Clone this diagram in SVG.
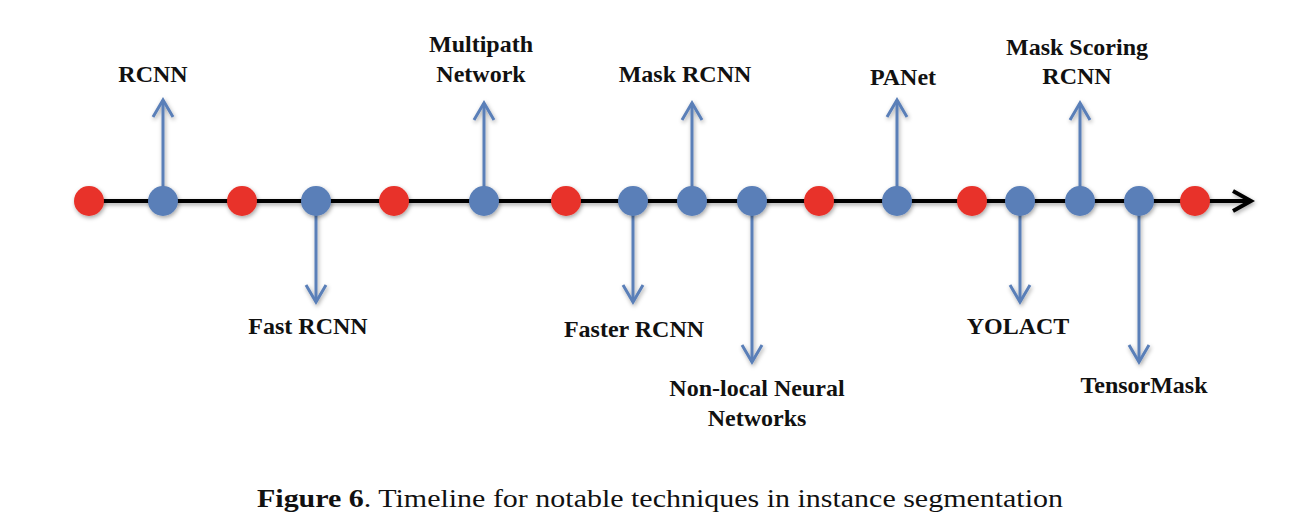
<svg xmlns="http://www.w3.org/2000/svg" width="1302" height="528" viewBox="0 0 1302 528">
<style>
.lbl{font-family:"Liberation Serif","Times New Roman",serif;font-weight:bold;font-size:24px;fill:#111;text-anchor:middle}
.cap{font-family:"Liberation Serif","Times New Roman",serif;font-size:25px;fill:#111}
.red{fill:#e8322a}
.blue{fill:#5a7fb8}
.conn{stroke:#5a7fb8;stroke-width:3;fill:none}
</style>
<defs>
<filter id="sh" x="-50%" y="-50%" width="200%" height="200%">
<feDropShadow dx="1" dy="2" stdDeviation="2" flood-color="#000" flood-opacity="0.35"/>
</filter>
<marker id="ah" markerUnits="userSpaceOnUse" viewBox="-20 -12 24 24" refX="0" refY="0" markerWidth="24" markerHeight="24" orient="auto">
<path d="M-17,-10 L0,0 L-17,10" fill="none" stroke="#5a7fb8" stroke-width="3"/>
</marker>
<marker id="axh" markerUnits="userSpaceOnUse" viewBox="-24 -14 28 28" refX="0" refY="0" markerWidth="28" markerHeight="28" orient="auto">
<path d="M-18,-10 L0,0 L-18,10" fill="none" stroke="#000" stroke-width="4"/>
</marker>
</defs>
<rect width="1302" height="528" fill="#fff"/>
<g id="connectors" filter="url(#sh)">
<line x1="89" y1="201" x2="1251" y2="201" stroke="#000" stroke-width="4" marker-end="url(#axh)"/>
<line class="conn" x1="163" y1="190" x2="163" y2="100" marker-end="url(#ah)"/>
<line class="conn" x1="316" y1="212" x2="316" y2="302" marker-end="url(#ah)"/>
<line class="conn" x1="484" y1="190" x2="484" y2="103" marker-end="url(#ah)"/>
<line class="conn" x1="633" y1="212" x2="633" y2="302" marker-end="url(#ah)"/>
<line class="conn" x1="692" y1="190" x2="692" y2="103" marker-end="url(#ah)"/>
<line class="conn" x1="752" y1="212" x2="752" y2="362" marker-end="url(#ah)"/>
<line class="conn" x1="897" y1="190" x2="897" y2="100" marker-end="url(#ah)"/>
<line class="conn" x1="1020" y1="212" x2="1020" y2="302" marker-end="url(#ah)"/>
<line class="conn" x1="1080" y1="190" x2="1080" y2="103" marker-end="url(#ah)"/>
<line class="conn" x1="1139" y1="212" x2="1139" y2="362" marker-end="url(#ah)"/>
</g>
<g filter="url(#sh)">
<g id="r1"><circle class="red" cx="89" cy="201" r="15"/></g>
<g id="rcnn"><circle class="blue" cx="163" cy="201" r="15"/></g>
<g id="r2"><circle class="red" cx="242" cy="201" r="15"/></g>
<g id="fast-rcnn"><circle class="blue" cx="316" cy="201" r="15"/></g>
<g id="r3"><circle class="red" cx="394" cy="201" r="15"/></g>
<g id="multipath"><circle class="blue" cx="484" cy="201" r="15"/></g>
<g id="r4"><circle class="red" cx="566" cy="201" r="15"/></g>
<g id="faster-rcnn"><circle class="blue" cx="633" cy="201" r="15"/></g>
<g id="mask-rcnn"><circle class="blue" cx="692" cy="201" r="15"/></g>
<g id="non-local"><circle class="blue" cx="752" cy="201" r="15"/></g>
<g id="r5"><circle class="red" cx="819" cy="201" r="15"/></g>
<g id="panet"><circle class="blue" cx="897" cy="201" r="15"/></g>
<g id="r6"><circle class="red" cx="972" cy="201" r="15"/></g>
<g id="yolact"><circle class="blue" cx="1020" cy="201" r="15"/></g>
<g id="ms-rcnn"><circle class="blue" cx="1080" cy="201" r="15"/></g>
<g id="tensormask"><circle class="blue" cx="1139" cy="201" r="15"/></g>
<g id="r7"><circle class="red" cx="1195" cy="201" r="15"/></g>
</g>
<g id="labels">
<text class="lbl" x="153" y="82">RCNN</text>
<text class="lbl" x="481" y="52">Multipath</text>
<text class="lbl" x="481" y="82">Network</text>
<text class="lbl" x="685" y="82">Mask RCNN</text>
<text class="lbl" x="903" y="85">PANet</text>
<text class="lbl" x="1077" y="55">Mask Scoring</text>
<text class="lbl" x="1077" y="84">RCNN</text>
<text class="lbl" x="308" y="334">Fast RCNN</text>
<text class="lbl" x="634" y="337">Faster RCNN</text>
<text class="lbl" x="757" y="396">Non-local Neural</text>
<text class="lbl" x="757" y="426">Networks</text>
<text class="lbl" x="1018" y="334">YOLACT</text>
<text class="lbl" x="1144" y="393">TensorMask</text>
</g>
<text class="cap" x="257" y="507" textLength="806" lengthAdjust="spacingAndGlyphs"><tspan font-weight="bold">Figure 6</tspan>. Timeline for notable techniques in instance segmentation</text>
</svg>
